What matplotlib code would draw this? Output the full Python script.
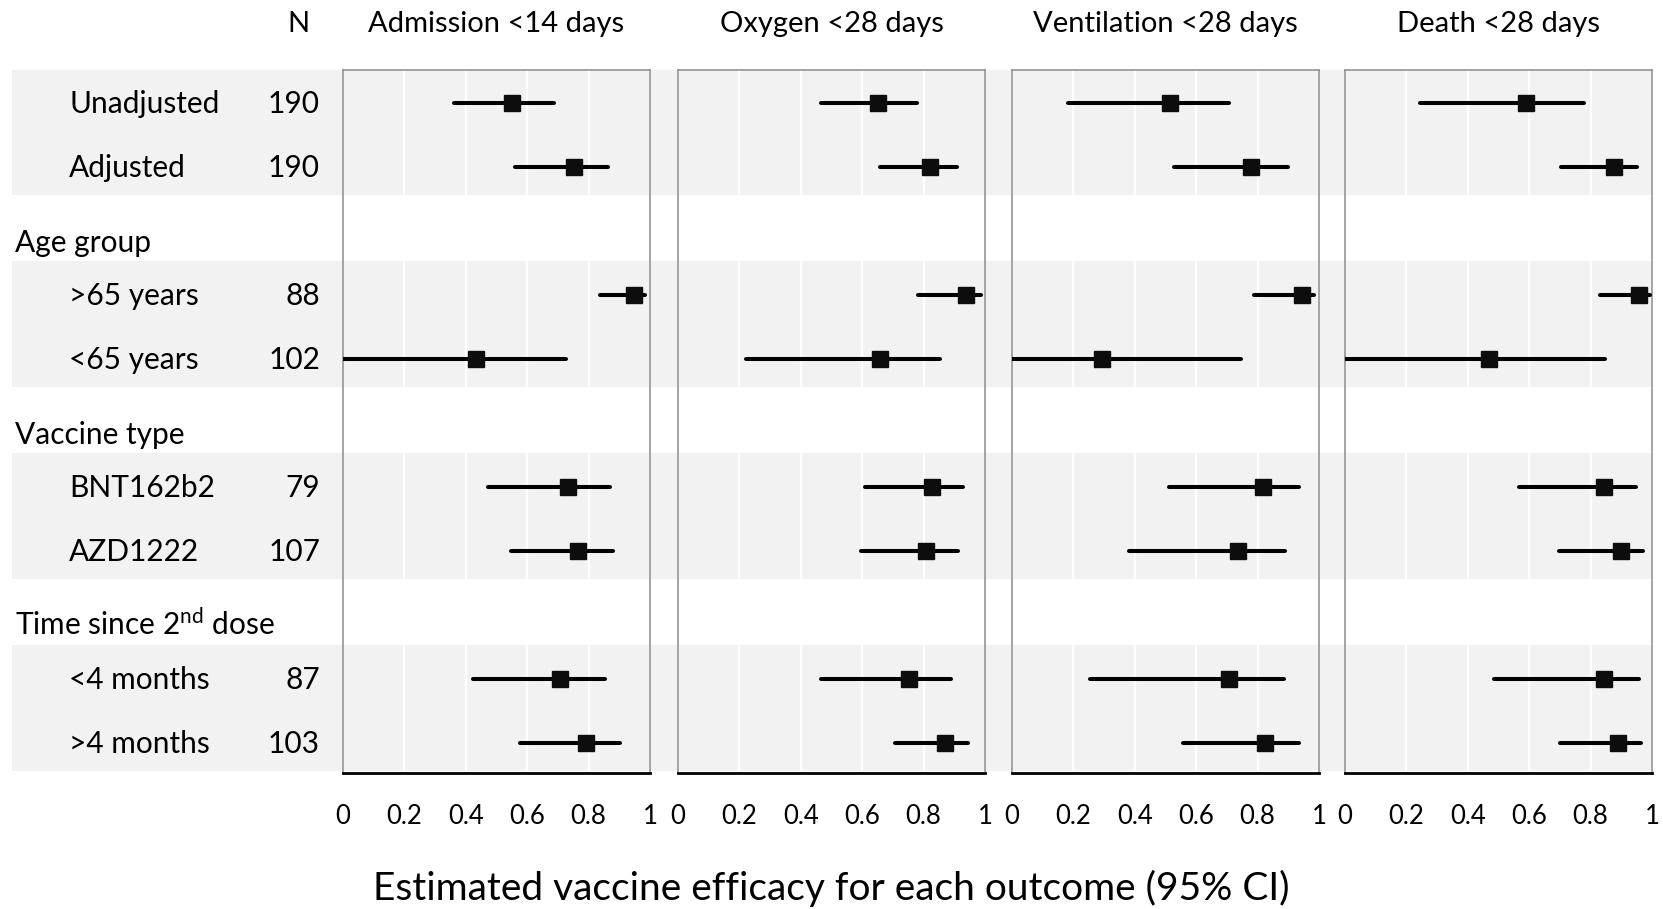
import matplotlib.pyplot as plt

plt.rcParams['font.family'] = ['Lato', 'DejaVu Sans']
plt.rcParams['mathtext.fontset'] = 'custom'
plt.rcParams['mathtext.rm'] = 'Lato'
plt.rcParams['mathtext.it'] = 'Lato:italic'

outcomes = ["Admission <14 days", "Oxygen <28 days", "Ventilation <28 days", "Death <28 days"]

# rows from top to bottom; a row with n = None is a group header
row_labels = ["Unadjusted", "Adjusted", "Age group", ">65 years", "<65 years",
              "Vaccine type", "BNT162b2", "AZD1222", "Time since 2$^{\\rm nd}$ dose",
              "<4 months", ">4 months"]
n_values = [190, 190, None, 88, 102, None, 79, 107, None, 87, 103]

# estimates and 95% CI, one value for each non-header row
admission_est = [0.552, 0.754, 0.949, 0.434, 0.734, 0.767, 0.707, 0.793]
admission_lo = [0.360, 0.559, 0.836, -0.30, 0.473, 0.546, 0.422, 0.575]
admission_hi = [0.687, 0.862, 0.985, 0.728, 0.869, 0.879, 0.854, 0.902]

oxygen_est = [0.652, 0.821, 0.938, 0.659, 0.828, 0.808, 0.753, 0.870]
oxygen_lo = [0.466, 0.658, 0.781, 0.221, 0.609, 0.596, 0.466, 0.706]
oxygen_hi = [0.779, 0.909, 0.986, 0.853, 0.929, 0.913, 0.890, 0.945]

ventilation_est = [0.515, 0.779, 0.943, 0.294, 0.816, 0.737, 0.708, 0.825]
ventilation_lo = [0.184, 0.529, 0.787, -0.30, 0.512, 0.380, 0.253, 0.558]
ventilation_hi = [0.708, 0.898, 0.985, 0.747, 0.934, 0.890, 0.887, 0.934]

death_est = [0.590, 0.877, 0.958, 0.470, 0.845, 0.900, 0.845, 0.889]
death_lo = [0.245, 0.703, 0.832, -0.30, 0.567, 0.696, 0.485, 0.699]
death_hi = [0.780, 0.951, 0.992, 0.846, 0.948, 0.971, 0.957, 0.964]

xticks = [0, 0.2, 0.4, 0.6, 0.8, 1]
xtick_labels = ["0", "0.2", "0.4", "0.6", "0.8", "1"]

series = [
    (admission_est, admission_lo, admission_hi),
    (oxygen_est, oxygen_lo, oxygen_hi),
    (ventilation_est, ventilation_lo, ventilation_hi),
    (death_est, death_lo, death_hi),
]

W, H = 1663, 909
fig = plt.figure(figsize=(W / 100, H / 100), dpi=100)

ax_bottom = 1 - 773 / H
ax_height = (773 - 70) / H
ylim = (10.47, -0.52)

data_rows = [i for i, n in enumerate(n_values) if n is not None]

# background with grey bands behind every group
bg = fig.add_axes([0, ax_bottom, 1, ax_height], zorder=0)
bg.set_xlim(0, W)
bg.set_ylim(ylim)
bg.axis('off')
groups = []
for r in data_rows:
    if groups and groups[-1][-1] == r - 1:
        groups[-1].append(r)
    else:
        groups.append([r])
for g in groups:
    bg.axhspan(g[0] - 0.53, g[-1] + 0.44, xmin=12 / W, xmax=1652 / W,
               color='#f2f2f2', lw=0)

for i, (label, n) in enumerate(zip(row_labels, n_values)):
    if n is None:
        bg.text(15, i + 0.32, label, fontsize=21.5, va='baseline', ha='left')
    else:
        bg.text(69, i + 0.15, label, fontsize=21.5, va='baseline', ha='left')
        bg.text(320, i + 0.15, str(n), fontsize=21.5, va='baseline', ha='right')

fig.text(298 / W, 1 - 32 / H, "N", fontsize=21, ha='center', va='baseline')

panel_lefts = [343, 678, 1012, 1345]
panel_width = 307

for left, title, (est, lo, hi) in zip(panel_lefts, outcomes, series):
    ax = fig.add_axes([left / W, ax_bottom, panel_width / W, ax_height], zorder=1)
    ax.set_facecolor('none')
    ax.set_xlim(0, 1)
    ax.set_ylim(ylim)
    ax.set_yticks([])
    ax.set_xticks(xticks)
    ax.set_xticklabels(xtick_labels)
    ax.tick_params(axis='x', length=0, pad=22, labelsize=18.5)
    ax.grid(axis='x', color='white', lw=1.6)
    ax.set_axisbelow(True)
    for side in ['left', 'right', 'top']:
        ax.spines[side].set_color('#8c8c8c')
        ax.spines[side].set_linewidth(1.1)
    ax.spines['bottom'].set_color('black')
    ax.spines['bottom'].set_linewidth(2)

    for r, e, l, h in zip(data_rows, est, lo, hi):
        ax.plot([l, h], [r, r], color='black', lw=2.9, solid_capstyle='round', zorder=3)
        ax.plot(e, r, marker='s', markersize=11, color='#0d0d0d', zorder=4)

    fig.text((left + panel_width / 2) / W, 1 - 32 / H, title,
             fontsize=21, ha='center', va='baseline')

fig.text(0.5, 1 - 900 / H, "Estimated vaccine efficacy for each outcome (95% CI)",
         fontsize=28, ha='center', va='baseline')

fig.savefig("out.png", dpi=100)
